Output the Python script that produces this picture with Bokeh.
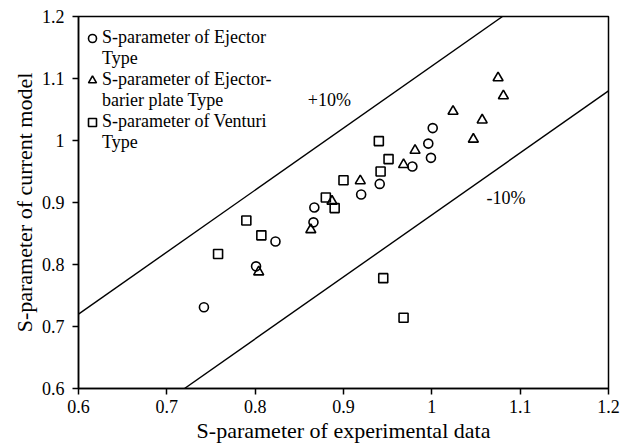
from bokeh.plotting import figure
from bokeh.models import FixedTicker, Legend, LegendItem, Label
from bokeh.embed import file_html
from bokeh.resources import INLINE

# Data
ejector_x = [0.742, 0.801, 0.823, 0.866, 0.867, 0.920, 0.941, 0.978, 0.999, 0.996, 1.001]
ejector_y = [0.731, 0.797, 0.837, 0.868, 0.892, 0.913, 0.930, 0.958, 0.972, 0.995, 1.020]

barrier_x = [0.804, 0.863, 0.887, 0.919, 0.968, 0.981, 1.024, 1.047, 1.057, 1.075, 1.081]
barrier_y = [0.788, 0.856, 0.902, 0.935, 0.961, 0.984, 1.047, 1.002, 1.033, 1.101, 1.072]

venturi_x = [0.758, 0.790, 0.807, 0.880, 0.890, 0.900, 0.940, 0.942, 0.951, 0.945, 0.968]
venturi_y = [0.817, 0.871, 0.847, 0.908, 0.891, 0.936, 0.999, 0.950, 0.970, 0.778, 0.714]

plus_x = [0.6, 1.08]
plus_y = [0.72, 1.2]
minus_x = [0.72, 1.2]
minus_y = [0.6, 1.08]

x_ticks = [0.6, 0.7, 0.8, 0.9, 1.0, 1.1, 1.2]
x_tick_labels = ["0.6", "0.7", "0.8", "0.9", "1", "1.1", "1.2"]
y_ticks = [0.6, 0.7, 0.8, 0.9, 1.0, 1.1, 1.2]
y_tick_labels = ["0.6", "0.7", "0.8", "0.9", "1", "1.1", "1.2"]

FONT = "Liberation Serif"

p = figure(width=628, height=446, output_backend="svg", toolbar_location=None,
           x_range=(0.6, 1.2), y_range=(0.6, 1.2),
           min_border_left=78, min_border_right=20, min_border_top=16, min_border_bottom=58)
p.background_fill_color = "white"
p.border_fill_color = "white"
p.outline_line_color = "black"
p.outline_line_width = 1.5
p.xgrid.visible = False
p.ygrid.visible = False

p.line(plus_x, plus_y, line_color="black", line_width=1.4)
p.line(minus_x, minus_y, line_color="black", line_width=1.4)

r_c = p.scatter(ejector_x, ejector_y, marker="circle", size=9, fill_color=None,
                line_color="black", line_width=1.6)
r_t = p.scatter(barrier_x, barrier_y, marker="triangle", size=10, fill_color=None,
                line_color="black", line_width=1.6)
r_s = p.scatter(venturi_x, venturi_y, marker="square", size=9, fill_color=None,
                line_color="black", line_width=1.6)
r_blank = p.scatter([], [], marker="circle", size=1, fill_alpha=0, line_alpha=0)

for ax, ticks, labels in ((p.xaxis, x_ticks, x_tick_labels), (p.yaxis, y_ticks, y_tick_labels)):
    ax.ticker = FixedTicker(ticks=ticks)
    ax.major_label_overrides = {t: l for t, l in zip(ticks, labels)}
    ax.minor_tick_line_color = None
    ax.major_tick_in = 0
    ax.major_tick_out = 6
    ax.major_tick_line_width = 1.5
    ax.axis_line_width = 1.5
    ax.axis_line_color = "black"
    ax.major_tick_line_color = "black"
    ax.major_label_text_font = FONT
    ax.major_label_text_font_size = "18px"
    ax.major_label_text_color = "black"
    ax.axis_label_text_font = FONT
    ax.axis_label_text_font_size = "22px"
    ax.axis_label_text_font_style = "normal"
    ax.axis_label_text_color = "black"

p.xaxis.axis_label = "S-parameter of experimental data"
p.yaxis.axis_label = "S-parameter of current model"
p.xaxis.major_label_standoff = 5
p.xaxis.axis_label_standoff = 2
p.yaxis.major_label_standoff = 8
p.yaxis.axis_label_standoff = 2

legend = Legend(items=[
    LegendItem(label="S-parameter of Ejector", renderers=[r_c]),
    LegendItem(label="Type", renderers=[r_blank]),
    LegendItem(label="S-parameter of Ejector-", renderers=[r_t]),
    LegendItem(label="barier plate Type", renderers=[r_blank]),
    LegendItem(label="S-parameter of Venturi", renderers=[r_s]),
    LegendItem(label="Type", renderers=[r_blank]),
], location=(4, 235))
legend.border_line_color = None
legend.background_fill_alpha = 0
legend.margin = 0
legend.padding = 0
legend.spacing = 0
legend.glyph_width = 20
legend.glyph_height = 20
legend.label_height = 20
legend.label_standoff = 0
legend.label_text_font = FONT
legend.label_text_font_size = "18px"
legend.label_text_color = "black"
legend.label_text_line_height = 1.1
p.add_layout(legend, "center")

p.add_layout(Label(x=0.884, y=1.065, text="+10%", text_font=FONT, text_font_size="18px",
                   text_align="center", text_baseline="middle", text_color="black"))
p.add_layout(Label(x=1.084, y=0.908, text="-10%", text_font=FONT, text_font_size="18px",
                   text_align="center", text_baseline="middle", text_color="black"))

open("out.html", "w").write(file_html(p, INLINE))
